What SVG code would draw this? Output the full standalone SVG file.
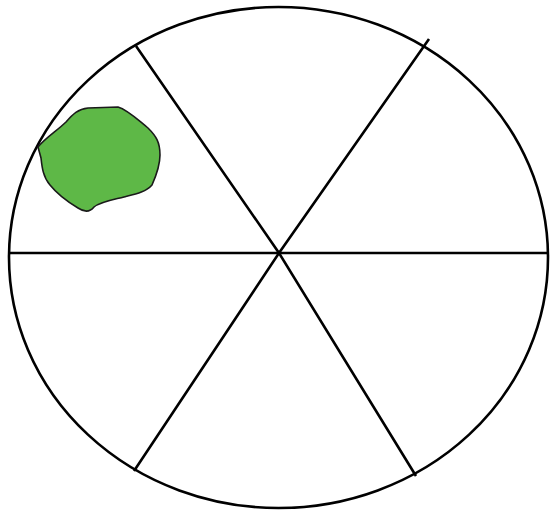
<svg xmlns="http://www.w3.org/2000/svg" width="552" height="514" viewBox="0 0 552 514">
<style>
.ln{stroke:#000;stroke-width:2.6;fill:none;stroke-linecap:butt}
</style>
<rect width="552" height="514" fill="#fff"/>
<g id="circle">
<ellipse class="ln" cx="278.5" cy="257.5" rx="269.5" ry="250.5"/>
</g>
<g id="connectors">
<line class="ln" x1="9" y1="253" x2="548" y2="253"/>
<polyline class="ln" points="136,46 279,253 416,476"/>
<polyline class="ln" points="429,39 279,253 134,471"/>
</g>
<g id="blob">
<path d="M38,147 C45,138 58,130 66,122 C73,114 78,109 88,108 L118,107 C128,110 138,120 148,128 C156,136 160,142 160,155 C160,166 156,176 152,185 C146,192 136,194 124,197 C112,200 100,202 94,207 C90,212 84,212 78,208 C68,202 58,195 50,185 C43,177 42,167 41,158 Z" fill="#5eb847" stroke="#1a1a1a" stroke-width="1.6" stroke-linejoin="round"/>
</g>
</svg>
